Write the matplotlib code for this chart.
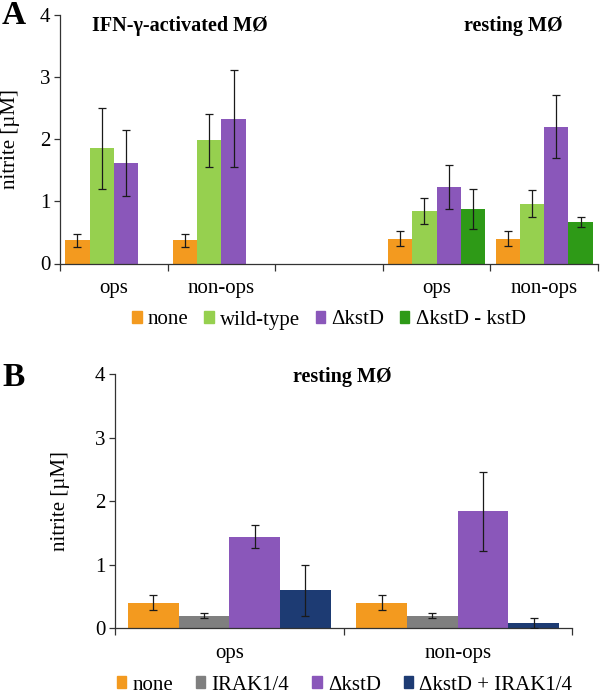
import matplotlib
matplotlib.use("Agg")
import matplotlib.pyplot as plt
import numpy as np
from matplotlib.patches import Patch

plt.rcParams['font.family'] = ['Liberation Serif', 'DejaVu Serif']
plt.rcParams['mathtext.fontset'] = 'stix'

# ---------------- Panel A data ----------------
a_categories = ['ops', 'non-ops', '', 'ops', 'non-ops']
a_series = ['none', 'wild-type', '\u0394kstD', '\u0394kstD - kstD']
a_none = [0.37, 0.37, np.nan, 0.40, 0.40]
a_none_err = [0.10, 0.10, np.nan, 0.12, 0.12]
a_wt = [1.85, 1.98, np.nan, 0.84, 0.96]
a_wt_err = [0.65, 0.43, np.nan, 0.21, 0.22]
a_dk = [1.61, 2.33, np.nan, 1.23, 2.20]
a_dk_err = [0.53, 0.78, np.nan, 0.36, 0.51]
a_comp = [np.nan, np.nan, np.nan, 0.87, 0.67]
a_comp_err = [np.nan, np.nan, np.nan, 0.32, 0.08]

# ---------------- Panel B data ----------------
b_categories = ['ops', 'non-ops']
b_series = ['none', 'IRAK1/4', '\u0394kstD', '\u0394kstD + IRAK1/4']
b_none = [0.40, 0.40]
b_none_err = [0.12, 0.12]
b_irak = [0.20, 0.20]
b_irak_err = [0.045, 0.045]
b_dk = [1.44, 1.84]
b_dk_err = [0.18, 0.62]
b_dkirak = [0.60, 0.08]
b_dkirak_err = [0.40, 0.08]

c_orange = '#F39A1F'
c_lgreen = '#96D04F'
c_purple = '#8A57BA'
c_dgreen = '#2E9A17'
c_gray = '#7F7F7F'
c_navy = '#1D3B73'
spine_c = '#333333'
FS = 15

fig = plt.figure(figsize=(6.0, 6.95), dpi=100)
W, H = 600.0, 695.0


def make_ax(left, right, top, bottom):
    return fig.add_axes([left / W, 1 - bottom / H, (right - left) / W, (bottom - top) / H])


def style_ax(ax, ncat, labels):
    ax.set_ylim(0, 4)
    ax.set_xlim(-0.5, ncat - 0.5)
    for s in ['top', 'right']:
        ax.spines[s].set_visible(False)
    for s in ['left', 'bottom']:
        ax.spines[s].set_color(spine_c)
        ax.spines[s].set_linewidth(0.9)
    ax.set_yticks([0, 1, 2, 3, 4])
    ax.tick_params(axis='y', direction='out', length=4, width=0.9, color=spine_c,
                   labelsize=FS, pad=3)
    ax.set_xticks(np.arange(ncat + 1) - 0.5)
    ax.set_xticklabels([])
    ax.tick_params(axis='x', which='major', direction='out', length=5, width=0.9, color=spine_c)
    ax.set_xticks(np.arange(ncat), minor=True)
    ax.set_xticklabels(labels, minor=True)
    ax.tick_params(axis='x', which='minor', length=0, labelsize=FS, pad=11)
    ax.set_ylabel('nitrite [\u00b5M]', fontsize=FS)


def draw_bars(ax, series_vals, series_errs, colors, names, width):
    n = len(series_vals)
    x = np.arange(len(series_vals[0]))
    for i, (v, e, c, nm) in enumerate(zip(series_vals, series_errs, colors, names)):
        off = (i - (n - 1) / 2) * width
        ax.bar(x + off, v, width=width, color=c, label=nm, zorder=2)
        ax.errorbar(x + off, v, yerr=e, fmt='none', ecolor='#1a1a1a', elinewidth=0.9,
                    capsize=3, capthick=0.9, zorder=3)


# Panel A
axA = make_ax(60, 598, 14.7, 263.5)
style_ax(axA, 5, a_categories)
draw_bars(axA, [a_none, a_wt, a_dk, a_comp], [a_none_err, a_wt_err, a_dk_err, a_comp_err],
          [c_orange, c_lgreen, c_purple, c_dgreen], a_series, 0.225)
axA.yaxis.set_label_coords(-0.074, 0.5)
axA.text(180 / W, 1 - 26 / H, 'IFN-\u03b3-activated M\u00d8', transform=fig.transFigure,
         ha='center', va='center', fontsize=14.5, fontweight='bold')
axA.text(513 / W, 1 - 26 / H, 'resting M\u00d8', transform=fig.transFigure,
         ha='center', va='center', fontsize=14.5, fontweight='bold')
fig.text(2 / W, 1 - 16 / H, 'A', fontsize=24, fontweight='bold', ha='left', va='center')

handlesA = [Patch(color=c) for c in [c_orange, c_lgreen, c_purple, c_dgreen]]
fig.legend(handlesA, a_series, loc='center', bbox_to_anchor=(329 / W, 1 - 320 / H),
           ncol=4, frameon=False, fontsize=FS, handlelength=0.45, handleheight=0.45,
           handletextpad=0.3, columnspacing=0.75, borderaxespad=0, borderpad=0)

# Panel B
axB = make_ax(115, 572, 374, 628.3)
style_ax(axB, 2, b_categories)
draw_bars(axB, [b_none, b_irak, b_dk, b_dkirak], [b_none_err, b_irak_err, b_dk_err, b_dkirak_err],
          [c_orange, c_gray, c_purple, c_navy], b_series, 0.222)
axB.yaxis.set_label_coords(-0.098, 0.5)
axB.text(342 / W, 1 - 377 / H, 'resting M\u00d8', transform=fig.transFigure,
         ha='center', va='center', fontsize=14.5, fontweight='bold')
fig.text(2 / W, 1 - 378 / H, 'B', fontsize=24, fontweight='bold', ha='left', va='center')

handlesB = [Patch(color=c) for c in [c_orange, c_gray, c_purple, c_navy]]
fig.legend(handlesB, b_series, loc='center', bbox_to_anchor=(344.5 / W, 1 - 685 / H),
           ncol=4, frameon=False, fontsize=FS, handlelength=0.45, handleheight=0.45,
           handletextpad=0.3, columnspacing=1.1, borderaxespad=0, borderpad=0)

fig.savefig('out.png', dpi=100)
